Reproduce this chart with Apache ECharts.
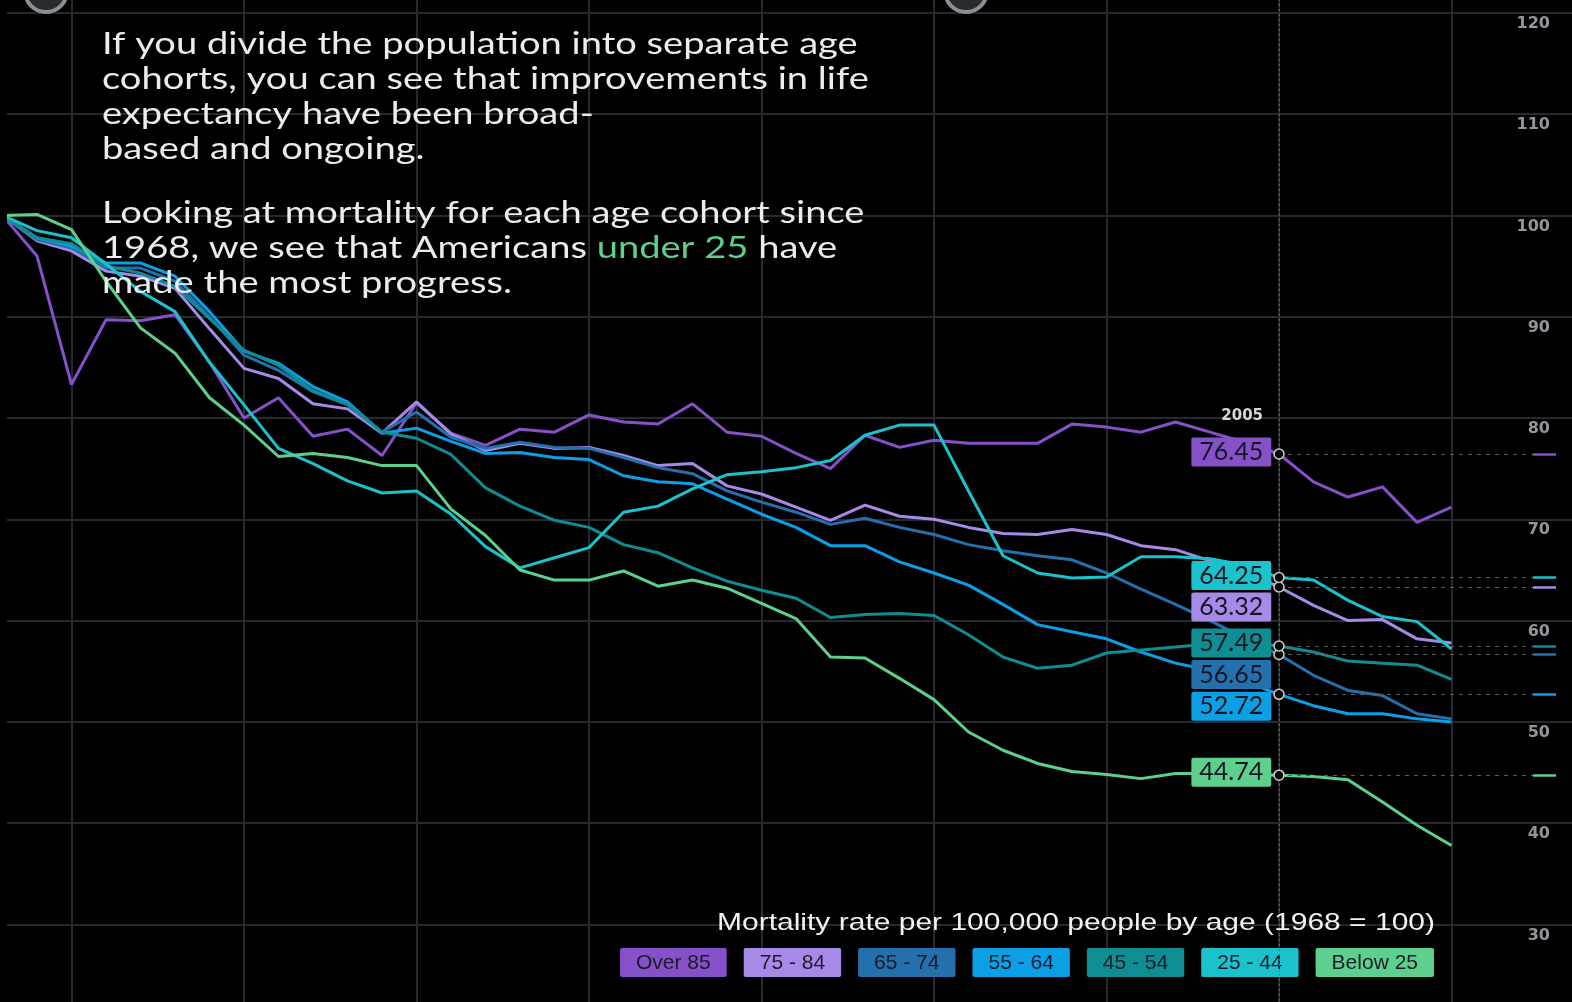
<!DOCTYPE html>
<html>
<head>
<meta charset="utf-8">
<title>Mortality by age cohort</title>
<script src="https://cdn.jsdelivr.net/npm/echarts@6/dist/echarts.min.js"></script>
<style>
  html, body { margin: 0; padding: 0; background: #000; }
  #chart { width: 1572px; height: 1002px; }
</style>
</head>
<body>
<div id="chart"></div>
<script>
// 年份 1968 - 2010
var years = [1968, 1969, 1970, 1971, 1972, 1973, 1974, 1975, 1976, 1977,
  1978, 1979, 1980, 1981, 1982, 1983, 1984, 1985, 1986, 1987,
  1988, 1989, 1990, 1991, 1992, 1993, 1994, 1995, 1996, 1997,
  1998, 1999, 2000, 2001, 2002, 2003, 2004, 2005, 2006, 2007,
  2008, 2009, 2010];

var cohorts = ['Over 85', '75 - 84', '65 - 74', '55 - 64', '45 - 54', '25 - 44', 'Below 25'];

var over85 = [100, 96.0, 83.3, 89.7, 89.6, 90.2, 85.5, 80.0, 82.0, 78.2,
  78.9, 76.3, 81.5, 78.5, 77.3, 78.9, 78.6, 80.3, 79.6, 79.4,
  81.4, 78.6, 78.2, 76.5, 75.0, 78.3, 77.1, 77.8, 77.5, 77.5,
  77.5, 79.4, 79.1, 78.6, 79.6, 78.6, 77.6, 76.45, 73.7, 72.2,
  73.2, 69.7, 71.2];

var age75 = [100, 97.5, 96.5, 94.5, 94.0, 92.8, 88.8, 84.9, 83.9, 81.4,
  80.9, 78.5, 81.6, 78.4, 76.8, 77.5, 77.0, 77.1, 76.3, 75.3,
  75.5, 73.3, 72.5, 71.2, 69.9, 71.4, 70.3, 70.0, 69.2, 68.6,
  68.5, 69.0, 68.5, 67.4, 67.0, 65.9, 64.8, 63.32, 61.5, 60.0,
  60.1, 58.2, 57.8];

var age65 = [100, 97.6, 96.8, 94.8, 94.8, 93.5, 90.0, 86.2, 84.7, 82.6,
  81.3, 78.6, 80.6, 78.1, 77.0, 77.6, 77.1, 77.0, 76.1, 75.1,
  74.5, 72.8, 71.7, 70.7, 69.5, 70.1, 69.2, 68.5, 67.5, 66.9,
  66.4, 66.0, 64.7, 63.1, 61.6, 60.0, 58.3, 56.65, 54.6, 53.1,
  52.6, 50.8, 50.3];

var age55 = [100, 97.8, 97.0, 95.3, 95.3, 94.0, 90.5, 86.6, 85.4, 83.1,
  81.6, 78.5, 79.0, 77.7, 76.5, 76.6, 76.1, 75.9, 74.3, 73.7,
  73.5, 72.0, 70.5, 69.2, 67.4, 67.4, 65.8, 64.7, 63.5, 61.6,
  59.6, 58.9, 58.2, 56.9, 55.8, 55.1, 54.0, 52.72, 51.6, 50.8,
  50.8, 50.3, 50.0];

var age45 = [100, 97.8, 97.2, 95.0, 94.3, 93.0, 89.8, 86.7, 85.2, 82.7,
  81.4, 78.6, 78.0, 76.4, 73.1, 71.3, 69.9, 69.2, 67.5, 66.7,
  65.2, 63.9, 63.0, 62.2, 60.3, 60.6, 60.7, 60.5, 58.6, 56.4,
  55.3, 55.6, 56.8, 57.1, 57.4, 57.7, 57.8, 57.49, 56.9, 56.0,
  55.8, 55.6, 54.2];

var age25 = [100, 98.5, 97.8, 95.2, 92.5, 90.5, 85.5, 81.3, 77.0, 75.5,
  73.8, 72.6, 72.8, 70.5, 67.3, 65.2, 66.2, 67.2, 70.7, 71.3,
  73.0, 74.4, 74.7, 75.1, 75.8, 78.3, 79.3, 79.3, 72.8, 66.4,
  64.7, 64.2, 64.3, 66.3, 66.3, 66.1, 65.5, 64.25, 64.0, 62.0,
  60.4, 59.9, 57.2];

var below25 = [100, 100.1, 98.6, 93.5, 88.9, 86.4, 82.0, 79.3, 76.2, 76.5,
  76.1, 75.3, 75.3, 71.0, 68.4, 65.0, 64.0, 64.0, 64.9, 63.4,
  64.0, 63.2, 61.7, 60.2, 56.4, 56.3, 54.3, 52.2, 49.0, 47.2,
  45.9, 45.1, 44.8, 44.4, 44.9, 44.9, 44.8, 44.74, 44.6, 44.3,
  42.1, 39.8, 37.8];

var yTicks = [30, 40, 50, 60, 70, 80, 90, 100, 110, 120];

var highlightYear = 2005;

var cohortValues = [over85, age75, age65, age55, age45, age25, below25];
var colors = ['#8650c8', '#a78ae8', '#2470ad', '#0b9fe6', '#0e8d92', '#1ac3cc', '#5ed08d'];
// 标签错开的纵向偏移
var labelShift = [-2, 20, 20, 12, -3, -2, -3];

var chart = echarts.init(document.getElementById('chart'));

var hi = years.indexOf(highlightYear);
var dashEnd = 2012.36;
var tickEnd = 2013.03;

var series = cohorts.map(function (name, i) {
  var vals = cohortValues[i];
  var v = vals[hi];
  return {
    name: name,
    type: 'line',
    symbol: 'none',
    data: years.map(function (y, k) { return [y, vals[k]]; }),
    lineStyle: { color: colors[i], width: 3 },
    itemStyle: { color: colors[i] },
    emphasis: { disabled: true },
    markPoint: {
      silent: true,
      symbol: 'circle',
      symbolSize: 10,
      itemStyle: { color: '#000', borderColor: '#d0d0d0', borderWidth: 1.5 },
      label: {
        show: true,
        position: 'left',
        distance: 2,
        offset: [0, labelShift[i]],
        formatter: function (p) { return Number(p.value).toFixed(2); },
        backgroundColor: colors[i],
        color: '#15151f',
        fontFamily: 'Lato',
        fontSize: 25,
        padding: [3, 8, 1, 8],
        borderRadius: 2
      },
      data: [{ coord: [highlightYear, v], value: v }]
    },
    markLine: {
      silent: true,
      symbol: ['none', 'none'],
      label: { show: false },
      data: [
        [{ coord: [highlightYear, v], lineStyle: { color: '#5a5d62', type: [4, 5], width: 1 } },
         { coord: [dashEnd, v] }],
        [{ coord: [dashEnd, v], lineStyle: { color: colors[i], type: 'solid', width: 2.5 } },
         { coord: [tickEnd, v] }]
      ]
    }
  };
});

// 2005 竖线和年份
series[0].markLine.data.push({
  xAxis: highlightYear,
  lineStyle: { color: '#6a6d72', type: [2, 3], width: 1 }
});
series[0].markPoint.data.push({
  coord: [highlightYear, 80.3],
  value: highlightYear,
  symbolSize: 0,
  label: {
    show: true,
    position: 'left',
    distance: 16,
    offset: [0, 1],
    formatter: String(highlightYear),
    backgroundColor: 'transparent',
    padding: 0,
    color: '#d6d6d6',
    fontFamily: 'DejaVu Sans',
    fontWeight: 'bold',
    fontSize: 15
  }
});

var rich = {};
colors.forEach(function (c, i) {
  rich['s' + i] = {
    backgroundColor: c,
    color: '#1a1a28',
    fontFamily: 'Liberation Sans',
    fontSize: 21,
    padding: [5, 16, 3, 16],
    borderRadius: 2
  };
});

var para1 = 'If you divide the population into separate age\ncohorts, you can see that improvements in life\nexpectancy have been broad-\nbased and ongoing.';
var para2 = 'Looking at mortality for each age cohort since\n1968, we see that Americans {g|under 25} have\nmade the most progress.';

var option = {
  backgroundColor: '#000',
  animation: false,
  legend: {
    data: cohorts,
    right: 138,
    top: 948,
    padding: 0,
    itemGap: 11,
    itemWidth: 0,
    itemHeight: 0,
    selectedMode: false,
    formatter: function (name) { return '{s' + cohorts.indexOf(name) + '|' + name + '}'; },
    textStyle: { rich: rich }
  },
  graphic: [
    { type: 'rect', silent: true, z: 20, shape: { x: 0, y: 0, width: 7, height: 1002 }, style: { fill: '#000' } },
    { type: 'circle', silent: true, z: 21, shape: { cx: 46, cy: -9, r: 21 }, style: { fill: '#2a2b2e', stroke: '#8b8e93', lineWidth: 4 } },
    { type: 'circle', silent: true, z: 21, shape: { cx: 966, cy: -9, r: 21 }, style: { fill: '#2a2b2e', stroke: '#8b8e93', lineWidth: 4 } },
    {
      type: 'text', silent: true, x: 102, y: 27, scaleX: 1.27, z: 10,
      style: { text: para1, font: '30px Lato', fill: '#ececec', lineHeight: 35 }
    },
    {
      type: 'text', silent: true, x: 102, y: 196, scaleX: 1.27, z: 10,
      style: {
        text: para2, font: '30px Lato', fill: '#ececec', lineHeight: 35,
        rich: { g: { fill: '#5ed08d', font: '30px Lato', lineHeight: 35 } }
      }
    },
    {
      type: 'text', silent: true, x: 1435, y: 911, scaleX: 1.25, z: 10,
      style: {
        text: 'Mortality rate per 100,000 people by age (1968 = 100)',
        font: '24px "Liberation Sans"', fill: '#f2f2f2', align: 'right'
      }
    }
  ],
  grid: {
    left: -101, right: -52, top: -88.5, bottom: -23.8,
    containLabel: false,
    outerBoundsMode: 'none'
  },
  xAxis: {
    type: 'value',
    min: 1965,
    max: 2015,
    interval: 5,
    axisLine: { show: false },
    axisTick: { show: false },
    axisLabel: { show: false },
    splitLine: { show: true, lineStyle: { color: '#26292e', width: 2 } }
  },
  yAxis: {
    type: 'value',
    position: 'right',
    offset: -80,
    min: 20,
    max: 130,
    interval: 10,
    axisLine: { show: false },
    axisTick: { show: false },
    axisLabel: {
      margin: 6,
      align: 'right',
      verticalAlign: 'top',
      padding: [3, 0, 0, 0],
      color: '#92969c',
      fontFamily: 'DejaVu Sans',
      fontWeight: 'bold',
      fontSize: 16,
      formatter: function (v) { return yTicks.indexOf(v) >= 0 ? String(v) : ''; }
    },
    splitLine: { show: true, lineStyle: { color: '#26292e', width: 2 } }
  },
  series: series
};

try {
  chart.setOption(option);
} catch (err) {
  document.body.insertAdjacentText('beforeend', String(err));
}
</script>
</body>
</html>
